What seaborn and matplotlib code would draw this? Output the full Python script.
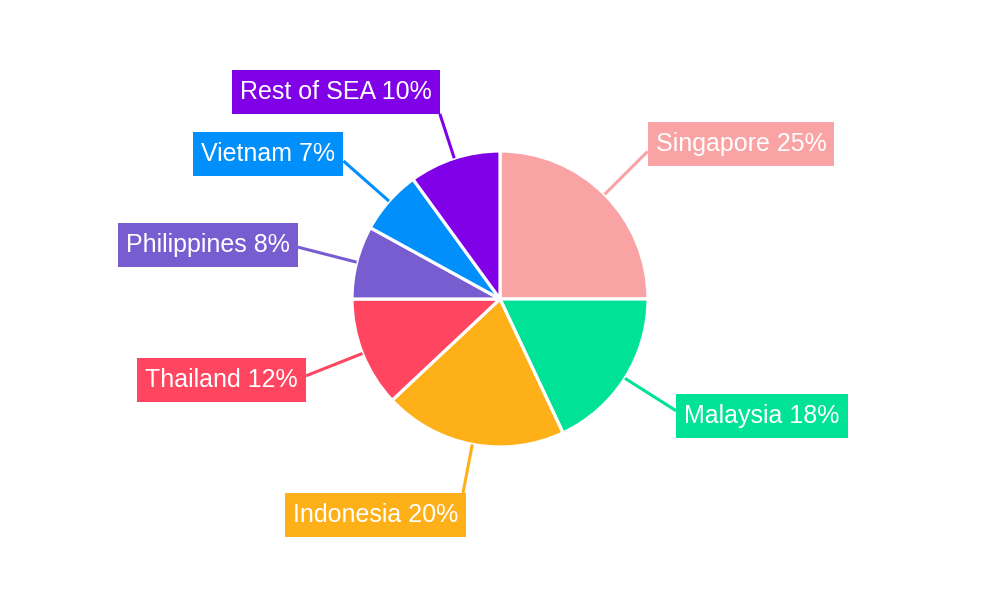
import numpy as np
import matplotlib
matplotlib.use("Agg")
import matplotlib.pyplot as plt
from matplotlib.patches import Rectangle
import seaborn as sns

labels = ["Singapore", "Malaysia", "Indonesia", "Thailand", "Philippines", "Vietnam", "Rest of SEA"]
values = [25, 18, 20, 12, 8, 7, 10]
colors = ["#F9A3A4", "#00E396", "#FEB019", "#FF4560", "#775DD0", "#008FFB", "#8000E8"]

sns.set_theme(style="white")
plt.rcParams['font.family'] = ['Liberation Sans', 'DejaVu Sans']

fig = plt.figure(figsize=(10, 6), dpi=100)
ax = fig.add_axes([0, 0, 1, 1])

cx, cy, R = 500, 301, 148
wedges, _ = ax.pie(values, colors=sns.color_palette(colors), startangle=90, counterclock=False,
                   center=(cx, cy), radius=R,
                   wedgeprops=dict(edgecolor="white", linewidth=2.3))
ax.set_xlim(0, 1000)
ax.set_ylim(0, 600)
ax.set_aspect("equal")
ax.axis("off")

fs = 18
padx = 8
box_h = 44
total = sum(values)
fig.canvas.draw()
renderer = fig.canvas.get_renderer()
for w, lab, val, col in zip(wedges, labels, values, colors):
    ang = np.deg2rad((w.theta1 + w.theta2) / 2)
    c, s = np.cos(ang), np.sin(ang)
    if s > 0.9:
        k = 1.315
    elif s < -0.9:
        k = 1.335
    else:
        k = 1.41
    x0, y0 = cx + R * c, cy + R * s
    x1, y1 = cx + k * R * c, cy + k * R * s
    ax.plot([x0, x1], [y0, y1], color=col, lw=2.2, solid_capstyle="butt")
    t = ax.text(0, 0, f"{lab} {round(val / total * 100)}%", fontsize=fs, color="white",
                ha="center", va="center", zorder=5)
    bb = t.get_window_extent(renderer)
    bw = bb.width + 2 * padx
    if c > 0:
        left = x1
    else:
        left = x1 - bw
    if s > 0.9:
        bottom = y1
    elif s < -0.9:
        bottom = y1 - box_h
        left += 3
    else:
        bottom = y1 - box_h / 2 + 10 * s
    ax.add_patch(Rectangle((left, bottom), bw, box_h, fc=col, ec="none", zorder=4))
    t.set_position((left + bw / 2, bottom + box_h / 2))

fig.savefig("out.png", dpi=100)
